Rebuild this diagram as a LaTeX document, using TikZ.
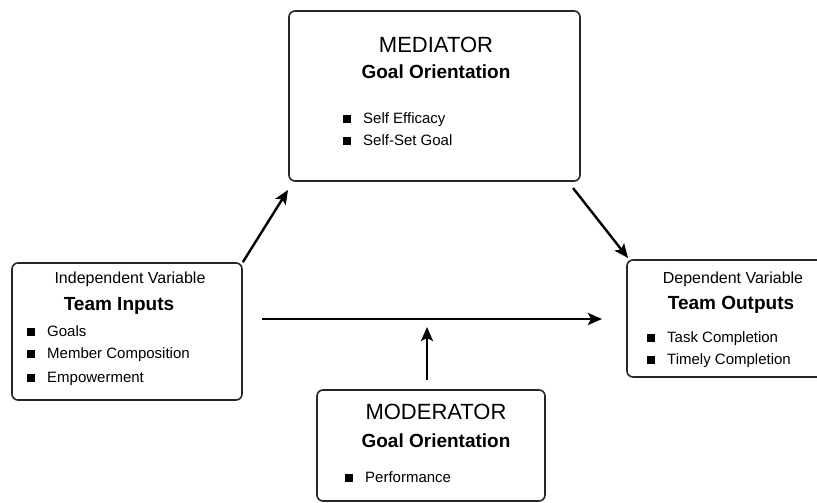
\documentclass[tikz,border=0pt]{standalone}
\usepackage{fontspec}
\setmainfont{Liberation Sans}
\usetikzlibrary{arrows.meta}
\newcommand{\bsq}{\raisebox{0.5pt}{\rule{8pt}{8pt}}\hspace{12pt}}

\begin{document}
\begin{tikzpicture}[x=1pt,y=-1pt,
    box/.style={draw=black!85,line width=1.6pt,rounded corners=6pt,inner sep=0pt},
    title/.style={font=\fontsize{22}{24}\selectfont,anchor=base,inner sep=0pt},
    sub/.style={font=\fontsize{19}{21}\selectfont\bfseries,anchor=base,inner sep=0pt},
    head/.style={font=\fontsize{16}{18}\selectfont,anchor=base,inner sep=0pt},
    item/.style={font=\fontsize{15}{17}\selectfont,anchor=base west,inner sep=0pt},
    link/.style={line width=2.4pt,-{Stealth[length=14pt,width=12pt,inset=3pt]}}]
                            \useasboundingbox (0,0) rectangle (817,503);
                            \node [box,minimum width=291pt,minimum height=170pt] (mediator) at (434.5,96) {};
                            \node [box,minimum width=230pt,minimum height=137pt] (inputs) at (127,331.5) {};
                            \node [box,minimum width=203pt,minimum height=117pt] (outputs) at (728.5,318.5) {};
                            \node [box,minimum width=228pt,minimum height=111pt] (moderator) at (431,445.5) {};

                            \node [title] (medtitle) at (436,53) {MEDIATOR};
                            \node [sub] (medsub) at (436,79) {Goal Orientation};
                            \node [item] (med1) at (343,123) {\bsq Self Efficacy};
                            \node [item] (med2) at (343,145) {\bsq Self-Set Goal};

                            \node [head] (inhead) at (130,283) {Independent Variable};
                            \node [sub] (insub) at (119,310) {Team Inputs};
                            \node [item] (in1) at (27,336) {\bsq Goals};
                            \node [item] (in2) at (27,358) {\bsq Member Composition};
                            \node [item] (in3) at (27,382) {\bsq Empowerment};

                            \node [head] (outhead) at (733,283) {Dependent Variable};
                            \node [sub] (outsub) at (731,309) {Team Outputs};
                            \node [item] (out1) at (647,342) {\bsq Task Completion};
                            \node [item] (out2) at (647,364) {\bsq Timely Completion};

                            \node [title] (modtitle) at (436,419) {MODERATOR};
                            \node [sub] (modsub) at (436,447) {Goal Orientation};
                            \node [item] (mod1) at (345,482) {\bsq Performance};

                            \coordinate (medin) at (288,190);
                            \coordinate (medout) at (573,188);
                            \coordinate (outin) at (628,258);
                            \coordinate (directfrom) at (262,319);
                            \coordinate (directto) at (602,319);
                            \coordinate (modout) at (427,380);
                            \coordinate (modto) at (427,327);

                            \draw [link] (inputs.north east) -- (medin);
                            \draw [link] (medout) -- (outin);
                            \draw [link,line width=2.8pt] (directfrom) -- (directto);
                            \draw [link] (modout) -- (modto);
                        \end{tikzpicture}
\end{document}
